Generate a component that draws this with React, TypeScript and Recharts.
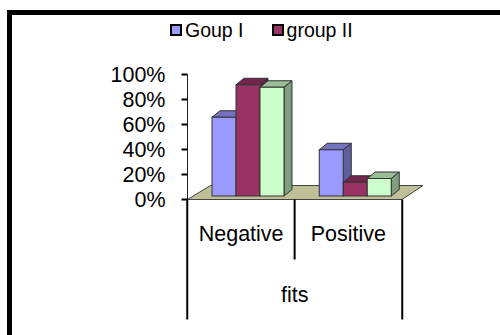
import { BarChart, Bar, XAxis, YAxis } from "recharts";

const categories = ["Negative", "Positive"];
const groupOne = [63, 37];
const groupTwo = [89, 11];
const groupThree = [87, 14];
const yTicks = [0, 20, 40, 60, 80, 100];

const chartData = categories.map((name, i) => ({
  name,
  parent: "fits",
  groupOne: groupOne[i],
  groupTwo: groupTwo[i],
  groupThree: groupThree[i],
}));

const FONT = "'Liberation Sans', Arial, sans-serif";
const TEXT_SIZE = 21.5;
const LEGEND_SIZE = 19.5;
const DEPTH_X = 8;
const DEPTH_Y = 6.5;
const BAND = 107.5;

// darken a hex colour for the top and side faces
const shade = (hex: string, k: number) => {
  const n = parseInt(hex.slice(1), 16);
  const c = (s: number) => Math.round(((n >> s) & 255) * k);
  return `rgb(${c(16)},${c(8)},${c(0)})`;
};

// extruded bar, set back from the front edge of the floor
const Box = (props: any) => {
  const { x, y, width, height, fill } = props;
  const bx = x + 6.5;
  const by = y - 3.5;
  const r = bx + width;
  const b = by + height;
  const stroke = { stroke: "#333", strokeWidth: 1 };
  return (
    <g>
      <polygon
        points={`${bx},${by} ${bx + DEPTH_X},${by - DEPTH_Y} ${r + DEPTH_X},${by - DEPTH_Y} ${r},${by}`}
        fill={shade(fill, 0.75)}
        {...stroke}
      />
      <polygon
        points={`${r},${by} ${r + DEPTH_X},${by - DEPTH_Y} ${r + DEPTH_X},${b - DEPTH_Y} ${r},${b}`}
        fill={shade(fill, 0.62)}
        {...stroke}
      />
      <rect x={bx} y={by} width={width} height={height} fill={fill} {...stroke} />
    </g>
  );
};

// floor plane under the bars
const Floor = () => (
  <polygon
    points="187.5,199.5 210.5,185.5 423,185.5 402,199.5"
    fill="#c0c098"
    stroke="#444"
    strokeWidth={1}
  />
);

const CategoryTick = (props: any) => {
  const { x, y, payload, index } = props;
  return (
    <g>
      {index > 0 && (
        <line x1={x - BAND / 2} x2={x - BAND / 2} y1={y - 8} y2={y + 52} stroke="#000" strokeWidth={2} />
      )}
      <text x={x} y={y + 33} textAnchor="middle" fontFamily={FONT} fontSize={TEXT_SIZE} fill="#000">
        {payload.value}
      </text>
    </g>
  );
};

const ParentTick = (props: any) => {
  const { x, y, payload } = props;
  return (
    <g>
      <line x1={x - BAND} x2={x - BAND} y1={y - 68} y2={y + 52} stroke="#000" strokeWidth={2} />
      <line x1={x + BAND} x2={x + BAND} y1={y - 68} y2={y + 52} stroke="#000" strokeWidth={2} />
      <text x={x} y={y + 34} textAnchor="middle" fontFamily={FONT} fontSize={TEXT_SIZE} fill="#000">
        {payload.value}
      </text>
    </g>
  );
};

const legendItems = [
  { label: "Goup I", color: "#9999ff" },
  { label: "group II", color: "#993366" },
];

const LegendRow = () => (
  <div style={{ position: "absolute", left: 170, top: 20, display: "flex", gap: 28, fontFamily: FONT, fontSize: LEGEND_SIZE, lineHeight: "20px" }}>
    {legendItems.map((item) => (
      <span key={item.label} style={{ display: "flex", alignItems: "center", gap: 3 }}>
        <span style={{ width: 8, height: 8, background: item.color, border: "2px solid #000", display: "inline-block" }} />
        {item.label}
      </span>
    ))}
  </div>
);

export default function App() {
  return (
    <div style={{ position: "absolute", left: 0, top: 0, width: 500, height: 335, overflow: "hidden", background: "#fff" }}>
      <div style={{ position: "absolute", left: 7, top: 10, width: 493, height: 4.5, background: "#000" }} />
      <div style={{ position: "absolute", left: 7, top: 10, width: 4.5, height: 325, background: "#000" }} />
      <BarChart
        width={500}
        height={335}
        data={chartData}
        barCategoryGap={0}
        barGap={0}
        margin={{ top: 74.5, right: 98, bottom: 15.5, left: 0 }}
        style={{ position: "absolute", left: 0, top: 0 }}
      >
        <Floor />
        <YAxis
          domain={[0, 100]}
          ticks={yTicks}
          interval={0}
          width={187.5}
          tickFormatter={(v) => `${v}%`}
          tick={{ fontFamily: FONT, fontSize: TEXT_SIZE, fill: "#000" }}
          tickSize={6}
          tickMargin={16}
          tickLine={{ stroke: "#000", strokeWidth: 2 }}
          axisLine={{ stroke: "#222", strokeWidth: 1 }}
        />
        <XAxis dataKey="name" height={60} axisLine={false} tickLine={false} tick={<CategoryTick />} interval={0} />
        <XAxis
          xAxisId="parent"
          dataKey="parent"
          height={60}
          axisLine={false}
          tickLine={false}
          tick={<ParentTick />}
          allowDuplicatedCategory={false}
        />
        <Bar dataKey="groupOne" fill="#9999ff" barSize={24} shape={<Box />} isAnimationActive={false} />
        <Bar dataKey="groupTwo" fill="#993366" barSize={24} shape={<Box />} isAnimationActive={false} />
        <Bar dataKey="groupThree" fill="#ccffcc" barSize={24} shape={<Box />} isAnimationActive={false} />
      </BarChart>
      <LegendRow />
    </div>
  );
}
